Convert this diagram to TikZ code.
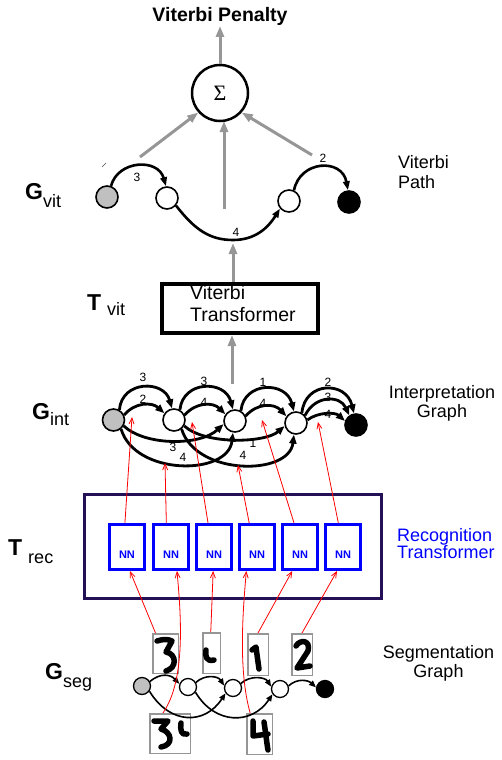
\documentclass[tikz,border=0pt]{standalone}
\usepackage{fontspec}
\setmainfont{Liberation Sans}
\newfontfamily\sigmafont{Liberation Serif}
\usetikzlibrary{arrows.meta}
\definecolor{arrowgray}{RGB}{150,150,150}
\definecolor{nodegray}{RGB}{192,192,192}
\definecolor{boxnavy}{RGB}{36,16,86}
\definecolor{nnblue}{RGB}{0,0,255}
\definecolor{imggray}{RGB}{150,150,150}
\begin{document}
\begin{tikzpicture}[x=1pt,y=-1pt,
  gv/.style={circle,draw=black,line width=1.6pt,minimum size=22pt,inner sep=0pt,fill=white},
  iv/.style={circle,draw=black,line width=1.6pt,minimum size=22pt,inner sep=0pt,fill=white},
  sv/.style={circle,draw=black,line width=1.3pt,minimum size=17pt,inner sep=0pt,fill=white},
  garc/.style={line width=2.6pt,-{Triangle[length=9pt,width=6.5pt]}},
  iarc/.style={line width=2.8pt,-{Triangle[length=9pt,width=7pt]}},
  sarc/.style={line width=1.6pt,-{Triangle[length=7pt,width=5.5pt]}},
  garrow/.style={draw=arrowgray,line width=3pt,-{Triangle[length=11pt,width=8pt,fill=arrowgray]}},
  rarrow/.style={draw=red,line width=0.8pt,-{Straight Barb[length=6pt,width=5pt]}},
  num/.style={font=\fontsize{12}{12}\selectfont,inner sep=0pt},
  nnbox/.style={draw=nnblue,line width=3pt,minimum width=35pt,minimum height=45pt,inner sep=0pt},
  nntxt/.style={text=nnblue,font=\bfseries\fontsize{11}{11}\selectfont,inner sep=0pt},
  imgbox/.style={draw=imggray,line width=1.5pt,inner sep=0pt},
  ink/.style={line width=5.5pt,line cap=round,line join=round},
  rtext/.style={inner sep=0pt},
  biglbl/.style={anchor=base west,inner sep=0pt,font=\bfseries\fontsize{23}{23}\selectfont}
]
\useasboundingbox (0,0) rectangle (502,760);

% ---------- top: Viterbi penalty ----------
\node[anchor=base,inner sep=0pt,font=\bfseries\fontsize{19.5}{20}\selectfont] (pen) at (220,22) {Viterbi Penalty};
\node[circle,draw=black,line width=2.5pt,minimum size=56pt,inner sep=0pt] (sig) at (220,93) {\sigmafont\fontsize{22}{22}\selectfont Σ};
\coordinate (penbot) at (220,26);
\draw[garrow] (sig.north) -- (penbot);

% ---------- Viterbi path graph ----------
\node[gv,fill=nodegray] (v0) at (107,197) {};
\node[gv] (v1) at (167,198) {};
\node[gv] (v2) at (289,201) {};
\node[gv,fill=black] (v3) at (349,202) {};
\draw[garc] (v0.70) .. controls (118,160) and (158,158) .. (v1.95);
\draw[garc] (v1.-40) .. controls (195,230) and (210,240) .. (233,240) .. controls (255,240) and (268,228) .. (v2.-140);
\draw[garc] (v2.65) .. controls (300,160) and (342,158) .. (v3.95);
\node[num] (lv1) at (137,177) {3};
\node[num] (lv2) at (236,232) {4};
\node[num] (lv3) at (323,158) {2};
\coordinate (tick1) at (102,167);
\coordinate (tick2) at (106,163);
\draw[line width=0.6pt,black!70] (tick1) -- (tick2);

\coordinate (ga1) at (140,157);
\coordinate (ga2) at (224,209);
\coordinate (ga2t) at (224,121);
\coordinate (ga3) at (312,155);
\draw[garrow] (ga1) -- (sig.-138);
\draw[garrow] (ga2) -- (ga2t);
\draw[garrow] (ga3) -- (sig.-42);

\node[biglbl] (gvit) at (25,199) {G\raisebox{-8pt}{\fontsize{18}{18}\selectfont\mdseries vit}};
\node[rtext,anchor=north west,align=left,font=\fontsize{18}{20}\selectfont] (vitpath) at (398,155) {Viterbi\\Path};

% ---------- Viterbi transformer ----------
\node[draw=black,line width=4pt,minimum width=156pt,minimum height=49pt,inner sep=0pt] (tvit) at (240,308.5) {};
\node[anchor=north west,inner sep=0pt,align=left,font=\fontsize{19.5}{22}\selectfont] (tvittxt) at (190,285) {Viterbi\\Transformer};
\coordinate (tvtop) at (233,243);
\draw[garrow] (tvit.north -| tvtop) -- (tvtop);
\coordinate (ibot) at (232,384);
\draw[garrow] (ibot) -- (tvit.south -| ibot);
\node[biglbl] (tvitl) at (87,310) {T\hspace{6pt}\raisebox{-5pt}{\fontsize{18}{18}\selectfont\mdseries vit}};

% ---------- Interpretation graph ----------
\node[iv,fill=nodegray] (i0) at (113.5,420) {};
\node[iv] (i1) at (174,420) {};
\node[iv] (i2) at (235,421) {};
\node[iv] (i3) at (296,423) {};
\node[iv,fill=black] (i4) at (356,425) {};

\draw[iarc] (i0.60) .. controls (122,380) and (164,380) .. (i1.100);
\draw[iarc] (i0.25) .. controls (135,402) and (152,402) .. (i1.145);
\draw[iarc] (i1.60) .. controls (183,380) and (225,380) .. (i2.100);
\draw[iarc] (i1.25) .. controls (196,402) and (213,402) .. (i2.145);
\draw[iarc] (i2.60) .. controls (244,381) and (286,381) .. (i3.100);
\draw[iarc] (i2.25) .. controls (257,403) and (274,403) .. (i3.145);
\draw[iarc] (i3.60) .. controls (305,381) and (346,381) .. (i4.100);
\draw[iarc] (i3.40) .. controls (315,395) and (340,395) .. (i4.125);
\draw[iarc] (i3.15) .. controls (318,412) and (335,412) .. (i4.160);
\draw[iarc] (i0.-30) .. controls (145,446) and (200,446) .. (i2.-165);
\draw[iarc] (i0.-50) .. controls (135,476) and (228,476) .. (i2.-100);
\draw[iarc] (i1.-30) .. controls (205,445) and (265,443) .. (i3.-165);
\draw[iarc] (i1.-50) .. controls (196,476) and (289,476) .. (i3.-100);

\node[num] (li1) at (143,377) {3};
\node[num] (li2) at (143,399) {2};
\node[num] (li3) at (204,381) {3};
\node[num] (li4) at (204,402) {4};
\node[num] (li5) at (263,382) {1};
\node[num] (li6) at (263,403) {4};
\node[num] (li7) at (328,382) {2};
\node[num] (li8) at (328,397) {3};
\node[num] (li9) at (328,414) {4};
\node[num] (li10) at (173,447) {3};
\node[num] (li11) at (183,457) {4};
\node[num] (li12) at (253,443) {1};
\node[num] (li13) at (243,455) {4};

\node[biglbl] (gint) at (32,419) {G\raisebox{-6pt}{\fontsize{18}{18}\selectfont\mdseries int}};
\node[rtext,anchor=north,align=center,font=\fontsize{18}{19}\selectfont] (interp) at (442,385) {Interpretation\\Graph};

% ---------- Recognition transformer ----------
\node[draw=boxnavy,line width=3pt,minimum width=297pt,minimum height=104pt,inner sep=0pt] (trec) at (233,546.5) {};
\node[nnbox] (nn1) at (127,547) {};
\node[nnbox] (nn2) at (171,547) {};
\node[nnbox] (nn3) at (214,547) {};
\node[nnbox] (nn4) at (257,547) {};
\node[nnbox] (nn5) at (300,547) {};
\node[nnbox] (nn6) at (343,547) {};
\node[nntxt] (nt1) at (127,555) {NN};
\node[nntxt] (nt2) at (171,555) {NN};
\node[nntxt] (nt3) at (214,555) {NN};
\node[nntxt] (nt4) at (257,555) {NN};
\node[nntxt] (nt5) at (300,555) {NN};
\node[nntxt] (nt6) at (343,555) {NN};

\node[biglbl] (trecl) at (8,555) {T\hspace{6pt}\raisebox{-8pt}{\fontsize{18}{18}\selectfont\mdseries rec}};
\node[rtext,anchor=north west,align=left,text=nnblue,font=\fontsize{18}{17}\selectfont] (rectxt) at (397,528) {Recognition\\Transformer};

% red arrows up to interpretation graph
\coordinate (t1) at (132,417);
\coordinate (t2) at (165,463);
\coordinate (t3) at (192,422);
\coordinate (t4) at (238,465);
\coordinate (t5) at (262,420);
\coordinate (t6) at (318,422);
\draw[rarrow] (nn1.95) -- (t1);
\draw[rarrow] (nn2.101.8) -- (t2);
\draw[rarrow] (nn3.104) -- (t3);
\draw[rarrow] (nn4.108.4) -- (t4);
\draw[rarrow] (nn5.104) -- (t5);
\draw[rarrow] (nn6.101.8) -- (t6);

% ---------- Segmentation graph ----------
\node[imgbox,minimum width=25.5pt,minimum height=39.5pt] (imA) at (165.5,653.5) {};
\node[imgbox,minimum width=17.5pt,minimum height=40.5pt] (imB) at (211.5,653) {};
\node[imgbox,minimum width=20.5pt,minimum height=41.5pt] (imC) at (258,654.5) {};
\node[imgbox,minimum width=20.5pt,minimum height=41.5pt] (imD) at (302,654.5) {};
\node[imgbox,minimum width=40.5pt,minimum height=39.5pt] (imE) at (170,733.5) {};
\node[imgbox,minimum width=25.5pt,minimum height=40.5pt] (imF) at (259.5,734) {};

% handwritten segments
\draw[ink] (157,641) .. controls (163,639) and (168,639) .. (172,641) -- (166,652) .. controls (177,654) and (177,668) .. (166,671);
\draw[ink] (206,650) .. controls (205,656) and (206,662) .. (214,660);
\draw[ink] (252,650) -- (256,647) .. controls (257,655) and (258,662) .. (259,669);
\draw[ink] (296,646) .. controls (300,639) and (311,640) .. (308,651) -- (297,668) -- (310,666);
\draw[ink] (154,721) -- (168,721) -- (161,729) .. controls (172,732) and (174,745) .. (161,747);
\draw[ink] (181,723) .. controls (180,729) and (181,736) .. (187,734);
\draw[ink] (253,721) -- (253,736) -- (268,734);
\draw[ink] (264,722) .. controls (266,735) and (267,745) .. (268,750);

\node[sv,fill=nodegray] (s0) at (142,686) {};
\node[sv] (s1) at (188,687) {};
\node[sv] (s2) at (233,688) {};
\node[sv] (s3) at (280,689) {};
\node[sv,fill=black] (s4) at (325,689) {};

\draw[sarc] (s0.30) .. controls (160,673) and (170,674) .. (s1.160);
\draw[sarc] (s1.30) .. controls (205,674) and (218,676) .. (s2.165);
\draw[sarc] (s2.30) .. controls (250,675) and (265,677) .. (s3.165);
\draw[sarc] (s3.20) .. controls (297,678) and (308,680) .. (s4.170);
\draw[sarc] (s0.-35) .. controls (170,725) and (205,725) .. (s2.-145);
\draw[sarc] (s1.-35) .. controls (215,725) and (252,725) .. (s3.-145);

% red arrows from segment images to NN boxes
\draw[rarrow] (imA.116) -- (nn1.-83);
\draw[rarrow] (imE.109) .. controls (186,680) and (181,615) .. (nn2.-76);
\draw[rarrow] (imB.92) -- (nn3.-92);
\draw[rarrow] (imF.114) .. controls (238,670) and (243,610) .. (nn4.-114.6);
\draw[rarrow] (imC.north) -- (nn5.-108);
\draw[rarrow] (imD.north) -- (nn6.-104);

\node[biglbl] (gseg) at (45,679) {G\raisebox{-8pt}{\fontsize{18}{18}\selectfont\mdseries seg}};
\node[rtext,anchor=north,align=center,font=\fontsize{18}{19}\selectfont] (segtxt) at (438.5,645) {Segmentation\\Graph};
\end{tikzpicture}
\end{document}
